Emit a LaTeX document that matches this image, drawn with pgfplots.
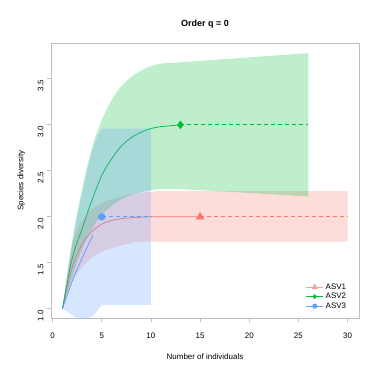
\documentclass[border=0pt]{standalone}
\usepackage{pgfplots}
\pgfplotsset{compat=1.18}
\usepgfplotslibrary{fillbetween}
\usepackage{fontspec}
\setmainfont{Liberation Sans}
\definecolor{cR}{HTML}{F8766D}
\definecolor{cG}{HTML}{00BA38}
\definecolor{cB}{HTML}{619CFF}
\definecolor{boxgray}{HTML}{BEBEBE}
\begin{document}
\begin{tikzpicture}
\begin{axis}[
  name=ax,
  scale only axis,
  width=308bp, height=275bp,
  xmin=-0.16, xmax=31.16, ymin=0.9, ymax=3.89,
  axis line style={boxgray, line width=1pt},
  xtick={0,5,10,15,20,25,30},
  ytick={1,1.5,2,2.5,3,3.5},
  tick align=outside,
  tick pos=left,
  major tick length=4bp,
  tick style={boxgray, line width=0.8pt},
  yticklabel style={rotate=90, /pgf/number format/fixed, /pgf/number format/fixed zerofill, /pgf/number format/precision=1},
  /pgf/number format/assume math mode=true,
  ticklabel style={font=\fontsize{8}{9}\selectfont},
  xticklabel style={yshift=-7bp},
  yticklabel style={xshift=-7bp},
  xlabel={Number of individuals},
  ylabel={Species diversity},
  label style={font=\fontsize{8}{9}\selectfont},
  xlabel style={yshift=-9bp},
  ylabel style={yshift=6bp},
  title={\textbf{Order q = 0}},
  title style={font=\fontsize{9}{10}\selectfont, yshift=5bp},
  legend style={draw=none, fill=none, font=\fontsize{8}{9}\selectfont, at={(rel axis cs:0.975,0.015)}, anchor=south east, row sep=-1.5pt},
  legend cell align=left,
  clip=true,
]
% ASV1 (red)
\addplot[cR, line width=0.75pt, smooth, forget plot] coordinates {(1,1)(2,1.45)(3,1.7)(4,1.84)(5,1.92)(6,1.96)(7,1.98)(8,1.99)(10,2.0)(15,2.0)};
\addplot[cR, line width=0.75pt, dash pattern=on 4bp off 3bp, forget plot] coordinates {(15,2)(30,2)};
\addplot[draw=none, smooth, name path=rU, forget plot] coordinates {(1,1)(2,1.7)(3,1.95)(4,2.08)(5,2.15)(6,2.19)(7,2.22)(8,2.25)(10,2.27)(12,2.28)(30,2.28)};
\addplot[draw=none, smooth, name path=rL, forget plot] coordinates {(1,1)(2,1.3)(3,1.45)(4,1.56)(5,1.62)(6,1.66)(7,1.69)(8,1.71)(10,1.73)(30,1.73)};
\addplot[fill=cR, fill opacity=0.25, draw=none, forget plot] fill between[of=rU and rL];
% ASV2 (green)
\addplot[cG, line width=0.75pt, smooth, forget plot] coordinates {(1,1)(2,1.55)(3,1.87)(4,2.18)(5,2.45)(6,2.63)(7,2.77)(8,2.86)(9,2.92)(10,2.96)(11,2.98)(12,2.99)(13,3)};
\addplot[cG, line width=0.75pt, dash pattern=on 4bp off 3bp, forget plot] coordinates {(13,3)(26,3)};
\addplot[draw=none, smooth, name path=gU, forget plot] coordinates {(1,1)(2,1.75)(3,2.3)(4,2.75)(5,3.05)(6,3.27)(7,3.42)(8,3.52)(9,3.59)(10,3.64)(11,3.665)(12,3.675)(13,3.68)(26,3.78)};
\addplot[draw=none, smooth, name path=gL, forget plot] coordinates {(1,1)(2,1.35)(3,1.65)(4,1.87)(5,2.02)(6,2.12)(7,2.19)(8,2.24)(9,2.27)(10,2.29)(11,2.3)(13,2.3)(20,2.26)(26,2.22)};
\addplot[fill=cG, fill opacity=0.25, draw=none, forget plot] fill between[of=gU and gL];
% ASV3 (blue)
\addplot[cB, line width=0.75pt, smooth, forget plot] coordinates {(1,1)(2,1.3)(3,1.55)(4.1,1.8)};
\addplot[cB, line width=0.75pt, dash pattern=on 4bp off 3bp, forget plot] coordinates {(5,2)(10,2)};
\addplot[fill=cB, fill opacity=0.25, draw=none, forget plot] coordinates {
 (1,1)(1.5,1.38)(2,1.7)(2.5,2.0)(3,2.25)(3.5,2.5)(4,2.7)(4.5,2.86)(5,2.96)(10,2.96)
 (10,1.04)(5,1.04)(4.6,0.99)(4.2,0.93)(3.7,0.895)(3,0.89)(2.5,0.9)(2,0.93)(1.5,0.965)(1,1)} -- cycle;
% markers
\addplot[cR, only marks, mark=triangle*, mark size=4.5pt, forget plot] coordinates {(15,2)};
\addplot[cG, only marks, mark=diamond*, mark size=4pt, forget plot] coordinates {(13,3)};
\addplot[cB, only marks, mark=*, mark size=3.5pt, forget plot] coordinates {(5,2)};
% legend
\addlegendimage{cR!70, line width=1pt, mark=triangle*, mark size=2.5pt}
\addlegendentry{ASV1}
\addlegendimage{cG, line width=1pt, mark=diamond*, mark size=1.8pt}
\addlegendentry{ASV2}
\addlegendimage{cB, line width=1pt, mark=*, mark size=2pt}
\addlegendentry{ASV3}
\end{axis}
\pgfresetboundingbox
\path[use as bounding box] ([xshift=-51bp,yshift=-62bp]ax.south west) rectangle ([xshift=28bp,yshift=43bp]ax.north east);
\end{tikzpicture}
\end{document}
